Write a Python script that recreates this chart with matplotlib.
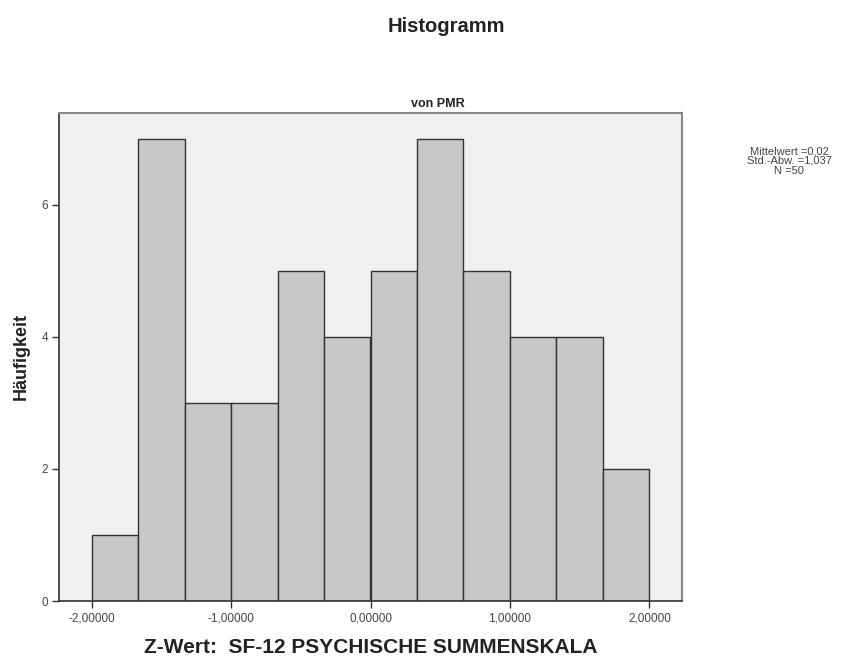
import numpy as np
import matplotlib
matplotlib.use("Agg")
import matplotlib.pyplot as plt

plt.rcParams['font.family'] = ['Liberation Sans', 'DejaVu Sans']

bin_edges = [-2.0, -5/3, -4/3, -1.0, -2/3, -1/3, 0.0, 1/3, 2/3, 1.0, 4/3, 5/3, 2.0]
counts = [1, 7, 3, 3, 5, 4, 5, 7, 5, 4, 4, 2]
xticks = [-2.0, -1.0, 0.0, 1.0, 2.0]
xtick_labels = ["-2,00000", "-1,00000", "0,00000", "1,00000", "2,00000"]
yticks = [0, 2, 4, 6]

fig = plt.figure(figsize=(8.56, 6.69), dpi=100)
ax = fig.add_axes([59/856, 1-601/669, (682-59)/856, (601-113)/669])
ax.set_facecolor('#f0f0f0')

edges = np.array(bin_edges)
ax.bar(edges[:-1], counts, width=np.diff(edges), align='edge',
       color='#c8c8c8', edgecolor='#333333', linewidth=1.0)

ax.set_xlim(-2.233, 2.233)
ax.set_ylim(0, 7.39)
ax.set_xticks(xticks)
ax.set_xticklabels(xtick_labels, fontsize=8.5, color='#444444')
ax.set_yticks(yticks)
ax.set_yticklabels([str(t) for t in yticks], fontsize=8.5, color='#444444')
ax.tick_params(length=5, width=1, color='#333333', pad=3)
for side in ['left', 'bottom']:
    ax.spines[side].set_color('#333333')
    ax.spines[side].set_linewidth(1.2)
for side in ['top', 'right']:
    ax.spines[side].set_color('#888888')
    ax.spines[side].set_linewidth(1.5)

ax.set_ylabel("Häufigkeit", fontsize=13, fontweight='bold', labelpad=8,
              color='#222222')
ax.set_xlabel("Z-Wert:  SF-12 PSYCHISCHE SUMMENSKALA", fontsize=15,
              fontweight='bold', labelpad=10, color='#222222')

fig.text(438/856, 1-104/669, "von PMR", fontsize=9, fontweight='bold',
         ha='center', va='center', color='#222222')
fig.text(446/856, 1-26/669, "Histogramm", fontsize=14.5, fontweight='bold',
         ha='center', va='center', color='#222222')
fig.text(789/856, 1-161/669, "Mittelwert =0,02\nStd.-Abw. =1,037\nN =50",
         fontsize=8, ha='center', va='center', linespacing=1.0, color='#444444')

fig.savefig("out.png", dpi=100)
